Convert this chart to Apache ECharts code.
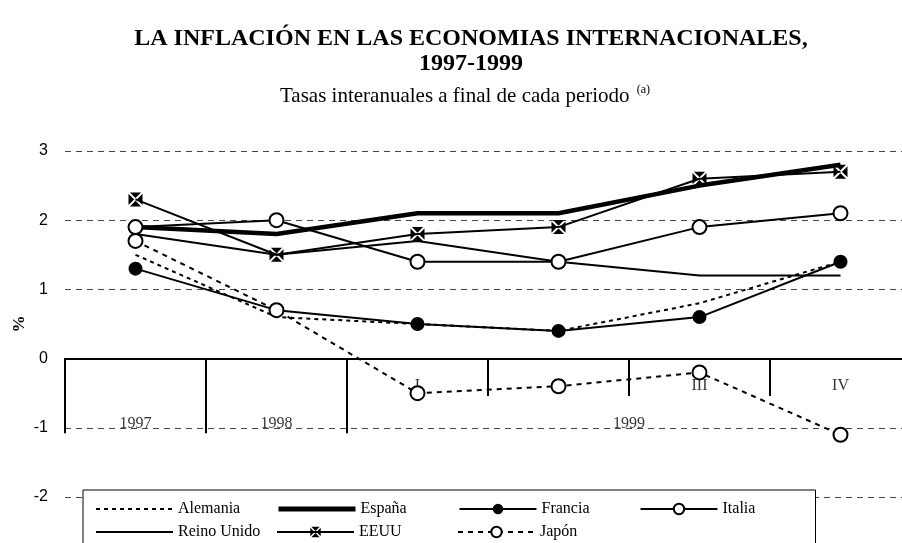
<!DOCTYPE html>
<html>
<head>
<meta charset="utf-8">
<script src="https://cdn.jsdelivr.net/npm/echarts@6/dist/echarts.min.js"></script>
<style>
  html, body { margin: 0; padding: 0; background: #fff; }
  #chart { width: 902px; height: 543px; }
</style>
</head>
<body>
<div id="chart"></div>
<script>
// periodos: dos años y los cuatro trimestres de 1999
const categories = ['1997', '1998', 'I', 'II', 'III', 'IV']
const yearGroups = [
  { name: '1997', from: 0, to: 0 },
  { name: '1998', from: 1, to: 1 },
  { name: '1999', from: 2, to: 5 }
]
const yTicks = [-2, -1, 0, 1, 2, 3]

const alemania = [1.5, 0.6, 0.5, 0.4, 0.8, 1.4]
const espana = [1.9, 1.8, 2.1, 2.1, 2.5, 2.8]
const francia = [1.3, 0.7, 0.5, 0.4, 0.6, 1.4]
const italia = [1.9, 2.0, 1.4, 1.4, 1.9, 2.1]
const reinoUnido = [1.8, 1.5, 1.7, 1.4, 1.2, 1.2]
const eeuu = [2.3, 1.5, 1.8, 1.9, 2.6, 2.7]
const japon = [1.7, 0.7, -0.5, -0.4, -0.2, -1.1]

const serif = '"Liberation Serif", "Times New Roman", serif'
const sans = '"Liberation Sans", Arial, sans-serif'
const crossSymbol = 'path://M2,0L18,0L10,8Z M2,20L18,20L10,12Z M0,2L0,18L8,10Z M20,2L20,18L12,10Z'

// separadores del eje: largos entre años, cortos entre trimestres
const quarterStart = yearGroups[2].from
const dividers = []
categories.forEach((c, i) => {
  const depth = i <= quarterStart ? -1.08 : -0.54
  dividers.push([{ coord: [i - 0.5, 0] }, { coord: [i - 0.5, depth] }])
})

// rótulos del eje: trimestres arriba, años abajo
const axisTexts = []
categories.forEach((c, i) => {
  if (i >= quarterStart) axisTexts.push({ name: c, value: [i, -0.39] })
})
yearGroups.forEach(g => {
  axisTexts.push({ name: g.name, value: [(g.from + g.to) / 2, -0.94] })
})

function lineSeries (name, data, extra) {
  return Object.assign({
    name: name,
    type: 'line',
    data: data,
    xAxisIndex: 0,
    yAxisIndex: 0,
    symbol: 'none',
    lineStyle: { color: '#000', width: 2 },
    itemStyle: { color: '#000' },
    z: 3
  }, extra)
}

const noMarker = { color: 'rgba(0,0,0,0)', borderWidth: 0 }

const option = {
  animation: false,
  backgroundColor: '#fff',
  title: [
    {
      text: 'LA INFLACIÓN EN LAS ECONOMIAS INTERNACIONALES,\n1997-1999',
      left: 466,
      top: 21,
      textAlign: 'center',
      textStyle: { fontFamily: serif, fontSize: 24, fontWeight: 'bold', color: '#000', lineHeight: 25 }
    },
    {
      text: 'Tasas interanuales a final de cada periodo {sup|(a)}',
      left: 275,
      top: 79,
      textStyle: {
        fontFamily: serif, fontSize: 21, fontWeight: 'normal', color: '#000',
        rich: { sup: { fontFamily: serif, fontSize: 12, color: '#000', verticalAlign: 'top', padding: [0, 0, 12, 2] } }
      }
    }
  ],
  legend: {
    data: [
      { name: 'Alemania', itemStyle: noMarker },
      { name: 'España', itemStyle: noMarker, lineStyle: { width: 5 } },
      { name: 'Francia' },
      { name: 'Italia' },
      { name: 'Reino Unido', itemStyle: noMarker },
      { name: 'EEUU' },
      { name: 'Japón' }
    ],
    orient: 'horizontal',
    left: 83,
    top: 490,
    width: 740,
    itemWidth: 77,
    itemHeight: 13,
    itemGap: 7,
    padding: [11, 2, 10, 12],
    backgroundColor: '#fff',
    borderColor: '#000',
    borderWidth: 1,
    textStyle: { fontFamily: serif, fontSize: 16, color: '#000', width: 91, lineHeight: 13 }
  },
  grid: {
    left: 65,
    top: 151,
    width: 846,
    height: 346,
    outerBoundsMode: 'none'
  },
  xAxis: [
    {
      type: 'category',
      data: categories,
      boundaryGap: true,
      axisLine: { onZero: true, lineStyle: { color: '#000', width: 2 } },
      axisTick: { show: false },
      axisLabel: { show: false },
      splitLine: { show: false }
    },
    {
      type: 'value',
      min: -0.5,
      max: categories.length - 0.5,
      show: false
    }
  ],
  yAxis: {
    type: 'value',
    min: yTicks[0],
    max: yTicks[yTicks.length - 1],
    interval: 1,
    name: '%',
    nameLocation: 'middle',
    nameGap: 37,
    nameMoveOverlap: false,
    nameTextStyle: { fontFamily: serif, fontSize: 17, fontWeight: 'bold', color: '#000' },
    axisLine: { show: false },
    axisTick: { show: false },
    axisLabel: { fontFamily: sans, fontSize: 16, color: '#000', margin: 17 },
    splitLine: { lineStyle: { color: '#444', width: 1, type: [6, 5] } }
  },
  series: [
    lineSeries('Alemania', alemania, { lineStyle: { color: '#000', width: 2, type: [4, 4] } }),
    lineSeries('España', espana, { lineStyle: { color: '#000', width: 4.5 } }),
    lineSeries('Francia', francia, { symbol: 'circle', symbolSize: 14, itemStyle: { color: '#000' } }),
    lineSeries('Italia', italia, {
      symbol: 'circle', symbolSize: 14,
      itemStyle: { color: '#fff', borderColor: '#000', borderWidth: 2 }
    }),
    lineSeries('Reino Unido', reinoUnido),
    lineSeries('EEUU', eeuu, { symbol: crossSymbol, symbolSize: 14, itemStyle: { color: '#000', borderWidth: 0 } }),
    lineSeries('Japón', japon, {
      symbol: 'circle', symbolSize: 14,
      lineStyle: { color: '#000', width: 2, type: [5, 5] },
      itemStyle: { color: '#fff', borderColor: '#000', borderWidth: 2 }
    }),
    {
      name: 'ejes',
      type: 'scatter',
      xAxisIndex: 1,
      yAxisIndex: 0,
      symbolSize: 0,
      silent: true,
      z: 2,
      data: axisTexts,
      label: {
        show: true,
        position: 'inside',
        formatter: '{b}',
        fontFamily: serif,
        fontSize: 16,
        color: '#000'
      },
      markLine: {
        silent: true,
        symbol: 'none',
        label: { show: false },
        lineStyle: { color: '#000', width: 2, type: 'solid' },
        data: dividers
      }
    }
  ]
}

const myChart = echarts.init(document.getElementById('chart'))
myChart.setOption(option)
</script>
</body>
</html>
